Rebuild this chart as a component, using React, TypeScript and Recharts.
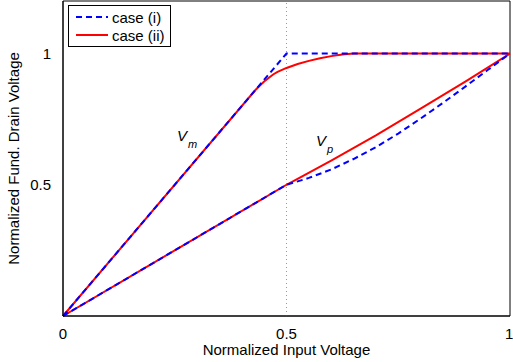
import { LineChart, Line, XAxis, YAxis, ReferenceLine, ReferenceArea, ReferenceDot } from 'recharts';

// Vm curves
const vmCase1 = [
  { x: 0, y: 0 },
  { x: 0.5, y: 1 },
  { x: 1, y: 1 },
];
const vmCase2 = [
  { x: 0, y: 0 },
  { x: 0.43, y: 0.86 },
  { x: 0.44, y: 0.877 },
  { x: 0.45, y: 0.893 },
  { x: 0.46, y: 0.907 },
  { x: 0.47, y: 0.92 },
  { x: 0.48, y: 0.93 },
  { x: 0.5, y: 0.945 },
  { x: 0.525, y: 0.96 },
  { x: 0.55, y: 0.972 },
  { x: 0.575, y: 0.982 },
  { x: 0.6, y: 0.99 },
  { x: 0.625, y: 0.996 },
  { x: 0.65, y: 1 },
  { x: 1, y: 1 },
];

// Vp curves
const vpCase1 = [
  { x: 0, y: 0 },
  { x: 0.5, y: 0.5 },
  { x: 0.55, y: 0.526 },
  { x: 0.6, y: 0.558 },
  { x: 0.65, y: 0.598 },
  { x: 0.7, y: 0.643 },
  { x: 0.75, y: 0.695 },
  { x: 0.8, y: 0.752 },
  { x: 0.85, y: 0.812 },
  { x: 0.9, y: 0.874 },
  { x: 0.95, y: 0.937 },
  { x: 1, y: 1 },
];
const vpCase2 = [
  { x: 0, y: 0 },
  { x: 0.5, y: 0.5 },
  { x: 0.6, y: 0.592 },
  { x: 0.7, y: 0.688 },
  { x: 0.8, y: 0.79 },
  { x: 0.9, y: 0.893 },
  { x: 1, y: 1 },
];

const xTicks = [0, 0.5, 1];
const yTicks = [0.5, 1];
const legendNames = ['case (i)', 'case (ii)'];

const font = '"Liberation Sans", Arial, sans-serif';
const blue = '#0000ff';
const red = '#ff0000';

function CurveLabel({ cx, cy, sub }: { cx?: number; cy?: number; sub: string }) {
  return (
    <text x={cx} y={cy} fontFamily={font} fontSize={15} fontStyle="italic" fill="#000">
      V
      <tspan fontSize={11} dx={1} dy={7}>{sub}</tspan>
    </text>
  );
}

export default function App() {
  return (
    <div style={{ position: 'absolute', left: 0, top: 0, width: 513, height: 362, background: '#fff' }}>
      <LineChart width={513} height={362} margin={{ top: 1, right: 3, left: 0, bottom: 0 }}>
        <XAxis
          type="number"
          dataKey="x"
          domain={[0, 1]}
          ticks={xTicks}
          tickFormatter={(v: number) => String(v)}
          allowDuplicatedCategory={false}
          height={46}
          tickLine={false}
          tickMargin={6}
          stroke="#000"
          tick={{ fill: '#000', fontSize: 15, fontFamily: font }}
          label={{ value: 'Normalized Input Voltage', position: 'insideBottom', offset: 7, fill: '#000', fontSize: 15, fontFamily: font }}
        />
        <YAxis
          type="number"
          domain={[0, 1.2]}
          ticks={yTicks}
          width={63}
          tickLine={false}
          tickMargin={6}
          stroke="#000"
          tick={{ fill: '#000', fontSize: 15, fontFamily: font }}
          label={{ value: 'Normalized Fund. Drain Voltage', angle: -90, position: 'insideLeft', offset: 14, style: { textAnchor: 'middle' }, fill: '#000', fontSize: 15, fontFamily: font }}
        />
        <ReferenceArea x1={0} x2={1} y1={0} y2={1.2} fill="none" stroke="#000" strokeWidth={1} />
        <ReferenceLine x={0.5} stroke="#999" strokeDasharray="1 3" />
        <Line data={vmCase2} dataKey="y" type="linear" stroke={red} strokeWidth={2} dot={false} isAnimationActive={false} />
        <Line data={vpCase2} dataKey="y" type="linear" stroke={red} strokeWidth={2} dot={false} isAnimationActive={false} />
        <Line data={vmCase1} dataKey="y" type="linear" stroke={blue} strokeWidth={2} strokeDasharray="6 4" dot={false} isAnimationActive={false} />
        <Line data={vpCase1} dataKey="y" type="linear" stroke={blue} strokeWidth={2} strokeDasharray="6 4" dot={false} isAnimationActive={false} />
        <ReferenceDot x={0.255} y={0.667} r={0} shape={(p: any) => <CurveLabel cx={p.cx} cy={p.cy} sub="m" />} />
        <ReferenceDot x={0.566} y={0.648} r={0} shape={(p: any) => <CurveLabel cx={p.cx} cy={p.cy} sub="p" />} />
      </LineChart>
      <div
        style={{
          position: 'absolute',
          left: 68,
          top: 5,
          width: 101,
          height: 40,
          border: '1px solid #000',
          background: '#fff',
          fontFamily: font,
          fontSize: 15,
        }}
      >
        {legendNames.map((name, i) => (
          <div key={name} style={{ position: 'absolute', left: 6, top: 2 + i * 18, height: 18, display: 'flex', alignItems: 'center' }}>
            <svg width={34} height={6}>
              <line x1={1} y1={3} x2={33} y2={3} stroke={i === 0 ? blue : red} strokeWidth={2} strokeDasharray={i === 0 ? '6 4' : undefined} />
            </svg>
            <span style={{ marginLeft: 3 }}>{name}</span>
          </div>
        ))}
      </div>
    </div>
  );
}
